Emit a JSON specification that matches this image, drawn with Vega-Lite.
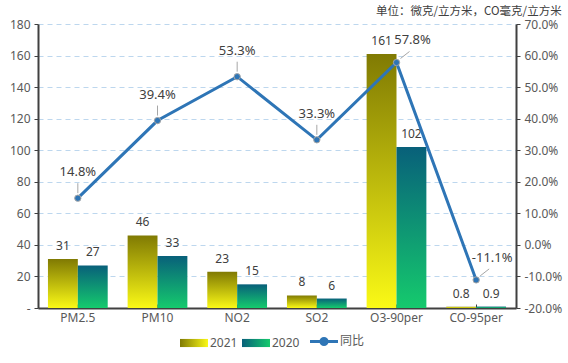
{
  "$schema": "https://vega.github.io/schema/vega-lite/v6.json",
  "width": 478,
  "height": 284,
  "autosize": "none",
  "padding": {"left": 38, "top": 24, "right": 52, "bottom": 55},
  "background": "white",
  "config": {
    "view": {"stroke": null},
    "font": "Noto Sans, Noto Sans CJK SC",
    "axis": {"labelFont": "Noto Sans, Noto Sans CJK SC"},
    "legend": {"labelFont": "Noto Sans, Noto Sans CJK SC"},
    "locale": {"number": {"decimal": ".", "thousands": ",", "grouping": [3], "currency": ["", ""], "minus": "-"}}
  },
  "title": {
    "text": "单位：微克/立方米，CO毫克/立方米",
    "anchor": "end",
    "frame": "bounds",
    "fontSize": 11.5,
    "fontWeight": "normal",
    "color": "#404040",
    "font": "Noto Sans CJK SC",
    "offset": 1
  },
  "datasets": {
    "bars": [
      {"cat": "PM2.5", "series": "2021", "value": 31},
      {"cat": "PM2.5", "series": "2020", "value": 27},
      {"cat": "PM10", "series": "2021", "value": 46},
      {"cat": "PM10", "series": "2020", "value": 33},
      {"cat": "NO2", "series": "2021", "value": 23},
      {"cat": "NO2", "series": "2020", "value": 15},
      {"cat": "SO2", "series": "2021", "value": 8},
      {"cat": "SO2", "series": "2020", "value": 6},
      {"cat": "O3-90per", "series": "2021", "value": 161},
      {"cat": "O3-90per", "series": "2020", "value": 102},
      {"cat": "CO-95per", "series": "2021", "value": 0.8},
      {"cat": "CO-95per", "series": "2020", "value": 0.9}
    ],
    "yoy": [
      {"cat": "PM2.5", "pct": 0.148},
      {"cat": "PM10", "pct": 0.394},
      {"cat": "NO2", "pct": 0.533},
      {"cat": "SO2", "pct": 0.333},
      {"cat": "O3-90per", "pct": 0.578},
      {"cat": "CO-95per", "pct": -0.111}
    ]
  },
  "encoding": {
    "x": {
      "field": "cat",
      "type": "nominal",
      "sort": ["PM2.5", "PM10", "NO2", "SO2", "O3-90per", "CO-95per"],
      "scale": {"paddingInner": 0.25, "paddingOuter": 0.125},
      "axis": {
        "title": null,
        "labelAngle": 0,
        "labelFontSize": 12,
        "labelColor": "#595959",
        "labelPadding": 8,
        "domainColor": "#404040",
        "domainWidth": 2,
        "tickColor": "#404040",
        "tickSize": -4,
        "tickWidth": 1
      }
    }
  },
  "layer": [
    {
      "data": {"name": "bars"},
      "encoding": {
        "xOffset": {
          "field": "series",
          "type": "nominal",
          "sort": ["2021", "2020"],
          "scale": {"paddingInner": 0, "paddingOuter": 0}
        },
        "y": {
          "field": "value",
          "type": "quantitative",
          "scale": {"domain": [0, 180], "nice": false},
          "axis": {
            "orient": "left",
            "title": null,
            "values": [0, 20, 40, 60, 80, 100, 120, 140, 160, 180],
            "labelExpr": "datum.value == 0 ? '-' : datum.label",
            "grid": true,
            "gridDash": [5, 4],
            "gridColor": "#BDD7EE",
            "gridWidth": 1,
            "domainColor": "#404040",
            "domainWidth": 2,
            "tickColor": "#404040",
            "tickSize": 4,
            "labelColor": "#595959",
            "labelFontSize": 12,
            "labelPadding": 4
          }
        }
      },
      "layer": [
        {
          "mark": {"type": "bar", "strokeWidth": 0},
          "encoding": {
            "fill": {
              "condition": [
                {"test": "datum.series == '2021'", "value": {"gradient": "linear", "x1": 0, "y1": 0, "x2": 0, "y2": 1, "stops": [{"offset": 0, "color": "#807A03"}, {"offset": 1, "color": "#FAF916"}]}}
              ],
              "value": {"gradient": "linear", "x1": 0, "y1": 0, "x2": 0, "y2": 1, "stops": [{"offset": 0, "color": "#08607A"}, {"offset": 1, "color": "#15CA6D"}]}
            },
            "stroke": {
              "field": "series",
              "type": "nominal",
              "scale": {"domain": ["2021", "2020", "同比"], "range": ["#D2CD0E", "#0F9A74", "#2E75B6"]},
              "legend": {
                "orient": "none",
                "legendX": 150,
                "legendY": 311,
                "direction": "horizontal",
                "title": null,
                "padding": 0,
                "symbolType": "M-1,-0.29H1V0.29H-1Z",
                "symbolSize": 784,
                "symbolStrokeWidth": 0,
                "labelFontSize": 12,
                "labelColor": "#595959",
                "labelOffset": 10,
                "columnPadding": 4,
                "encoding": {
                  "symbols": {
                    "fill": {"value": {"expr": "datum.value == '2021' ? {gradient: 'linear', x1: 0, y1: 0, x2: 1, y2: 0, stops: [{offset: 0, color: '#807A03'}, {offset: 1, color: '#FAF916'}]} : datum.value == '2020' ? {gradient: 'linear', x1: 0, y1: 0, x2: 1, y2: 0, stops: [{offset: 0, color: '#08607A'}, {offset: 1, color: '#15CA6D'}]} : '#2E75B6'"}},
                    "shape": {"value": {"expr": "datum.value == '同比' ? 'M-1,0H1M-0.22,0A0.22,0.22 0 1,1 0.22,0A0.22,0.22 0 1,1 -0.22,0Z' : 'M-1,-0.29H1V0.29H-1Z'"}},
                    "strokeWidth": {"value": {"expr": "datum.value == '同比' ? 3 : 0"}}
                  }
                }
              }
            }
          }
        },
        {
          "mark": {"type": "text", "baseline": "middle", "dy": -13, "fontSize": 12, "color": "#404040"},
          "encoding": {"text": {"field": "value", "type": "nominal"}}
        }
      ]
    },
    {
      "data": {"name": "yoy"},
      "encoding": {
        "y": {
          "field": "pct",
          "type": "quantitative",
          "scale": {"domain": [-0.2, 0.7], "nice": false, "zero": false},
          "axis": {
            "orient": "right",
            "title": null,
            "values": [-0.2, -0.1, 0, 0.1, 0.2, 0.3, 0.4, 0.5, 0.6, 0.7],
            "format": ".1%",
            "grid": false,
            "domainColor": "#404040",
            "domainWidth": 2,
            "tickColor": "#404040",
            "tickSize": 4,
            "labelColor": "#595959",
            "labelFontSize": 12,
            "labelPadding": 4
          }
        }
      },
      "layer": [
        {
          "mark": {"type": "line", "strokeWidth": 3},
          "encoding": {
            "stroke": {"datum": "同比", "type": "nominal"}
          }
        },
        {
          "mark": {"type": "point", "shape": "circle", "filled": true, "fill": "#2E75B6", "stroke": "#A6A6A6", "strokeWidth": 1, "size": 40, "opacity": 1}
        },
        {
          "transform": [{"filter": "datum.cat != 'O3-90per' && datum.cat != 'CO-95per'"}],
          "layer": [
            {
              "mark": {"type": "rule", "yOffset": -5, "y2Offset": -15, "color": "#A6A6A6", "strokeWidth": 1},
              "encoding": {"y2": {"field": "pct"}}
            },
            {
              "mark": {"type": "text", "baseline": "middle", "dy": -26, "fontSize": 13, "color": "#404040"},
              "encoding": {"text": {"field": "pct", "type": "quantitative", "format": ".1%"}}
            }
          ]
        },
        {
          "transform": [{"filter": "datum.cat == 'O3-90per' || datum.cat == 'CO-95per'"}],
          "layer": [
            {
              "mark": {"type": "rule", "xOffset": 4, "x2Offset": 13, "yOffset": -4, "y2Offset": -11, "color": "#A6A6A6", "strokeWidth": 1},
              "encoding": {"x2": {"field": "cat"}, "y2": {"field": "pct"}}
            },
            {
              "mark": {"type": "text", "baseline": "middle", "dx": 16, "dy": -22, "fontSize": 13, "color": "#404040"},
              "encoding": {"text": {"field": "pct", "type": "quantitative", "format": ".1%"}}
            }
          ]
        }
      ]
    }
  ],
  "resolve": {"scale": {"y": "independent"}}
}
